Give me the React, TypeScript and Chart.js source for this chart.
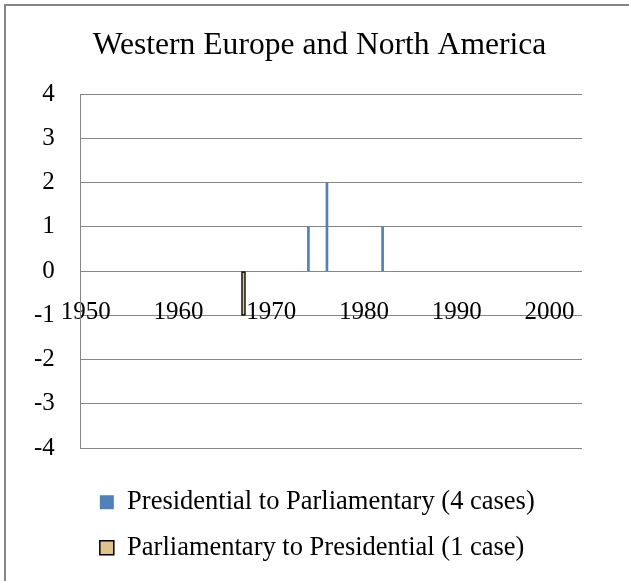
import React, { useEffect, useRef } from "react";
import { Chart, registerables } from "chart.js";

Chart.register(...registerables);

const chartTitle = "Western Europe and North America";
const seriesNames = [
  "Presidential to Parliamentary (4 cases)",
  "Parliamentary to Presidential (1 case)",
];
const presToParlYears = [1974, 1976, 1982];
const presToParlCounts = [1, 2, 1];
const parlToPresYears = [1967];
const parlToPresCounts = [-1];
const xMin = 1949.46;
const xMax = 2003.5;
const yMin = -4;
const yMax = 4;

const FONT = "'Liberation Serif', 'Times New Roman', Times, serif";
const GRID = "#868686";

const framePlugin = {
  id: "frame",
  afterLayout(chart: any) {
    // centre the title over the whole chart frame (as in the source image)
    const t = chart.titleBlock;
    if (t) {
      t.left = 57;
      t.right = 582;
      t.width = t.right - t.left;
    }
  },
  beforeDraw(chart: any) {
    const { ctx, width, height } = chart;
    ctx.save();
    ctx.fillStyle = "#ffffff";
    ctx.fillRect(0, 0, width, height);
    ctx.strokeStyle = GRID;
    ctx.lineWidth = 2;
    ctx.beginPath();
    ctx.moveTo(5, height);
    ctx.lineTo(5, 5);
    ctx.lineTo(width, 5);
    ctx.stroke();
    ctx.restore();
  },
};

export default function App() {
  const ref = useRef<HTMLCanvasElement | null>(null);

  useEffect(() => {
    if (!ref.current) return;
    const chart = new Chart(ref.current, {
      type: "bar",
      data: {
        datasets: [
          {
            label: seriesNames[0],
            data: presToParlYears.map((x, i) => ({ x, y: presToParlCounts[i] })),
            backgroundColor: "#4F81BD",
            borderWidth: 0,
            barThickness: 2,
            grouped: false,
          } as any,
          {
            label: seriesNames[1],
            data: parlToPresYears.map((x, i) => ({ x, y: parlToPresCounts[i] })),
            backgroundColor: "#E0C28A",
            borderColor: "#000000",
            borderWidth: 1.5,
            borderSkipped: false,
            barThickness: 4,
            grouped: false,
          } as any,
        ],
      },
      options: {
        animation: false,
        responsive: false,
        devicePixelRatio: 1,
        font: { family: FONT },
        color: "#000",
        layout: { padding: { top: 4, left: 8, right: 47, bottom: 10 } },
        scales: {
          x: {
            type: "linear",
            position: { y: 0 } as any,
            min: xMin,
            max: xMax,
            offset: false,
            grid: { display: false, offset: false, drawTicks: false },
            border: { display: false },
            ticks: {
              stepSize: 10,
              includeBounds: false,
              autoSkip: false,
              maxRotation: 0,
              padding: 26,
              color: "#000",
              font: { family: FONT, size: 25 },
              callback: (v: any) => String(v),
            },
          },
          y: {
            type: "linear",
            min: yMin,
            max: yMax,
            grid: { color: GRID, lineWidth: 1, drawTicks: false },
            border: { display: true, color: GRID, width: 1 },
            ticks: {
              stepSize: 1,
              padding: 26,
              color: "#000",
              font: { family: FONT, size: 25 },
            },
          },
        },
        plugins: {
          title: {
            display: true,
            text: chartTitle,
            color: "#000",
            font: { family: FONT, size: 31.6, weight: "normal" },
            padding: { top: 23, bottom: 29.3 },
          },
          legend: {
            display: true,
            position: "bottom",
            align: "start",
            fullSize: false,
            title: {
              display: true,
              text: "",
              font: { size: 10 },
              padding: { top: 0, bottom: 10 },
            },
            labels: {
              boxWidth: 14,
              boxHeight: 14,
              padding: 19,
              color: "#000",
              font: { family: FONT, size: 26.5 },
            },
          },
          tooltip: { enabled: false },
        },
      } as any,
      plugins: [framePlugin],
    });
    return () => chart.destroy();
  }, []);

  return (
    <div style={{ position: "absolute", left: 0, top: 0, width: 629, height: 581 }}>
      <canvas
        ref={ref}
        width={629}
        height={581}
        style={{ display: "block", width: 629, height: 581 }}
      />
    </div>
  );
}
